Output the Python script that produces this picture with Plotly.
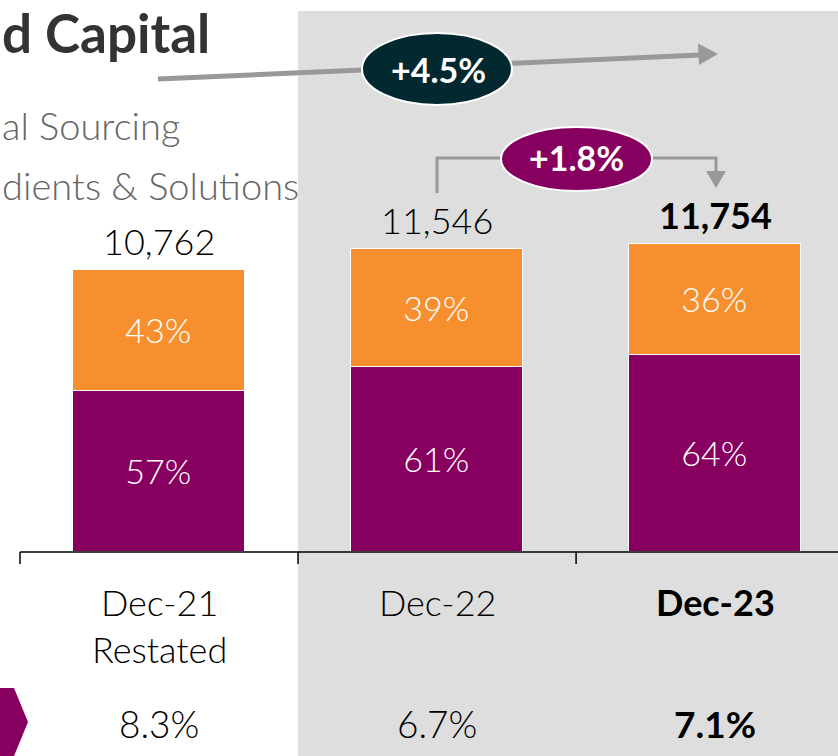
import plotly.graph_objects as go

# ---------------- data ----------------
categories = ["Dec-21", "Dec-22", "Dec-23"]
cat_labels = ["Dec-21<br>Restated", "Dec-22", "<b>Dec-23</b>"]
totals = [10762, 11546, 11754]
total_labels = ["10,762", "11,546", "<b>11,754</b>"]
purple_share = [57, 61, 64]
orange_share = [43, 39, 36]
margin_row = ["8.3%", "6.7%", "<b>7.1%</b>"]
growth_total = "+4.5%"
growth_yoy = "+1.8%"
legend_texts = ["al Sourcing", "dients & Solutions"]
title_text = "d Capital"

# ---------------- styling ----------------
W, H = 838, 756
PURPLE = "#870060"
ORANGE = "#F78F2E"
DARK = "#02292F"
GREYBG = "#DEDEDE"
ARROW = "#999999"
FONT = "Lato, sans-serif"

def px(x):
    return x / W

def py(y):
    return 1 - y / H

xs = list(range(len(categories)))
purple_vals = [t * s / 100 for t, s in zip(totals, purple_share)]
orange_vals = [t - p for t, p in zip(totals, purple_vals)]

fig = go.Figure()
fig.add_trace(go.Bar(
    x=xs, y=purple_vals, width=0.62,
    marker=dict(color=PURPLE, line=dict(color="white", width=1.5)),
    text=[f"{s}%" for s in purple_share], textposition="inside",
    insidetextanchor="middle", textangle=0, constraintext="none",
    textfont=dict(color="white", size=34, family=FONT, weight=300),
    hoverinfo="skip",
))
fig.add_trace(go.Bar(
    x=xs, y=orange_vals, width=0.62,
    marker=dict(color=ORANGE, line=dict(color="white", width=1.5)),
    text=[f"{s}%" for s in orange_share], textposition="inside",
    insidetextanchor="middle", textangle=0, constraintext="none",
    textfont=dict(color="white", size=34, family=FONT, weight=300),
    hoverinfo="skip",
))

shapes = []
annotations = []

# grey background panel for Dec-22 / Dec-23
shapes.append(dict(type="rect", xref="x", yref="paper", x0=0.5, x1=3.0,
                   y0=0, y1=py(11), fillcolor=GREYBG, line=dict(width=0),
                   layer="below"))

# axis line and category tick marks
shapes.append(dict(type="line", xref="x", yref="y", x0=-0.5, x1=3.0, y0=0, y1=0,
                   line=dict(color="black", width=1.5)))
for b in [-0.5, 0.5, 1.5, 2.5]:
    shapes.append(dict(type="line", xref="x", yref="paper", x0=b, x1=b,
                       y0=py(552), y1=py(564), line=dict(color="black", width=1.5)))

# long CAGR arrow
x0a, y0a, x1a, y1a = 158, 79, 700, 55
shapes.append(dict(type="line", xref="paper", yref="paper",
                   x0=px(x0a), y0=py(y0a), x1=px(x1a), y1=py(y1a),
                   line=dict(color=ARROW, width=5)))
tip = (718, 54)
shapes.append(dict(type="path", xref="paper", yref="paper",
                   path=f"M {px(tip[0])},{py(tip[1])} L {px(698)},{py(43.5)} L {px(699)},{py(65)} Z",
                   fillcolor=ARROW, line=dict(width=0)))

# yoy connector
path = (f"M {px(437)},{py(193)} L {px(437)},{py(158)} L {px(716)},{py(158)} "
        f"L {px(716)},{py(174)}")
shapes.append(dict(type="path", xref="paper", yref="paper", path=path,
                   line=dict(color=ARROW, width=3)))
shapes.append(dict(type="path", xref="paper", yref="paper",
                   path=f"M {px(716)},{py(188)} L {px(706)},{py(171)} L {px(726)},{py(171)} Z",
                   fillcolor=ARROW, line=dict(width=0)))

# ellipses
shapes.append(dict(type="circle", xref="paper", yref="paper",
                   x0=px(362), x1=px(512), y0=py(105), y1=py(33),
                   fillcolor=DARK, line=dict(color="white", width=2)))
shapes.append(dict(type="circle", xref="paper", yref="paper",
                   x0=px(501), x1=px(652), y0=py(191), y1=py(127),
                   fillcolor=PURPLE, line=dict(color="white", width=2)))
annotations.append(dict(xref="paper", yref="paper", x=px(438), y=py(69),
                        xanchor="center", yanchor="middle",
                        text=f"<b>{growth_total}</b>", showarrow=False,
                        font=dict(color="white", size=34, family=FONT)))
annotations.append(dict(xref="paper", yref="paper", x=px(576), y=py(158),
                        xanchor="center", yanchor="middle",
                        text=f"<b>{growth_yoy}</b>", showarrow=False,
                        font=dict(color="white", size=34, family=FONT)))

# chevron at bottom-left
shapes.append(dict(type="path", xref="paper", yref="paper",
                   path=f"M {px(0)},{py(688)} L {px(14)},{py(688)} L {px(28)},{py(722)} "
                        f"L {px(14)},{py(756)} L {px(0)},{py(756)} Z",
                   fillcolor=PURPLE, line=dict(width=0)))

# title & legend remnants
annotations.append(dict(xref="paper", yref="paper", x=0, y=py(33),
                        xanchor="left", yanchor="middle",
                        text=f"<b>{title_text}</b>", showarrow=False,
                        font=dict(color="#333333", size=53, family=FONT)))
for txt, yy in zip(legend_texts, [125, 185]):
    annotations.append(dict(xref="paper", yref="paper", x=0, y=py(yy),
                            xanchor="left", yanchor="middle",
                            text=txt, showarrow=False,
                            font=dict(color="#666666", size=38, family=FONT, weight=300)))

# totals above bars
for x, t, lab in zip(xs, totals, total_labels):
    annotations.append(dict(xref="x", yref="y", x=x, y=t,
                            xanchor="center", yanchor="bottom", yshift=5,
                            text=lab, showarrow=False,
                            font=dict(color="black", size=36, family=FONT,
                                      weight=300)))

# category labels
for x, lab in zip(xs, cat_labels):
    annotations.append(dict(xref="x", yref="paper", x=x, y=py(578),
                            xanchor="center", yanchor="top",
                            text=lab, showarrow=False, align="center",
                            font=dict(color="black", size=36, family=FONT,
                                      weight=300)))

# bottom margin row
for x, lab in zip(xs, margin_row):
    annotations.append(dict(xref="x", yref="paper", x=x, y=py(723),
                            xanchor="center", yanchor="middle",
                            text=lab, showarrow=False,
                            font=dict(color="black", size=37, family=FONT,
                                      weight=300)))

fig.update_layout(
    width=W, height=H, margin=dict(l=0, r=0, t=0, b=0),
    paper_bgcolor="white", plot_bgcolor="rgba(0,0,0,0)",
    barmode="stack", bargap=0, showlegend=False,
    xaxis=dict(range=[-0.572, 2.442], visible=False, fixedrange=True),
    yaxis=dict(range=[-7780, 21053], visible=False, fixedrange=True),
    shapes=shapes, annotations=annotations,
)

fig.write_html("out.html", config={"displayModeBar": False},
               post_script="document.body.style.margin='0';document.body.style.overflow='hidden';")
